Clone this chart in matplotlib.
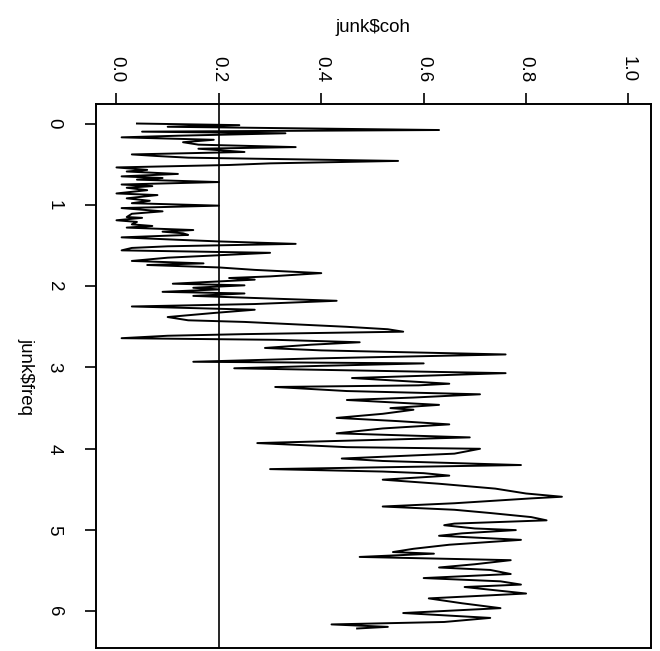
import numpy as np
import matplotlib
matplotlib.use("Agg")
import matplotlib.pyplot as plt

plt.rcParams['font.family'] = ['Liberation Sans', 'DejaVu Sans']

freq = [0.00, 0.02, 0.04, 0.08, 0.10, 0.12, 0.15, 0.17, 0.20, 0.23,
        0.26, 0.29, 0.31, 0.35, 0.38, 0.40, 0.42, 0.46, 0.49, 0.51,
        0.54, 0.57, 0.59, 0.62, 0.65, 0.67, 0.69, 0.72, 0.75, 0.77,
        0.79, 0.82, 0.86, 0.88, 0.92, 0.95, 0.98, 1.01, 1.04, 1.06,
        1.08, 1.11, 1.15, 1.16, 1.19, 1.21, 1.24, 1.26, 1.28, 1.31,
        1.33, 1.35, 1.37, 1.40, 1.43, 1.45, 1.48, 1.51, 1.53, 1.56,
        1.59, 1.65, 1.69, 1.72, 1.74, 1.77, 1.80, 1.84, 1.88, 1.90,
        1.92, 1.97, 1.99, 2.02, 2.04, 2.07, 2.09, 2.12, 2.18, 2.22,
        2.25, 2.29, 2.33, 2.38, 2.42, 2.44, 2.47, 2.50, 2.53, 2.56,
        2.59, 2.61, 2.64, 2.66, 2.69, 2.72, 2.76, 2.79, 2.84, 2.89,
        2.93, 2.95, 2.98, 3.01, 3.07, 3.13, 3.20, 3.22, 3.24, 3.29,
        3.33, 3.37, 3.40, 3.46, 3.50, 3.52, 3.57, 3.62, 3.66, 3.70,
        3.75, 3.81, 3.86, 3.93, 3.98, 4.00, 4.06, 4.09, 4.12, 4.15,
        4.20, 4.25, 4.28, 4.30, 4.33, 4.38, 4.43, 4.49, 4.55, 4.59,
        4.61, 4.67, 4.71, 4.75, 4.79, 4.84, 4.88, 4.92, 4.94, 4.98,
        5.00, 5.04, 5.07, 5.12, 5.18, 5.23, 5.27, 5.29, 5.33, 5.37,
        5.42, 5.46, 5.49, 5.54, 5.59, 5.63, 5.67, 5.70, 5.74, 5.78,
        5.84, 5.90, 5.96, 6.02, 6.08, 6.13, 6.16, 6.19, 6.21]
coh = [0.04, 0.24, 0.10, 0.63, 0.05, 0.33, 0.12, 0.01, 0.19, 0.13,
       0.16, 0.35, 0.16, 0.25, 0.03, 0.08, 0.14, 0.55, 0.30, 0.22,
       0.00, 0.06, 0.02, 0.12, 0.01, 0.09, 0.04, 0.20, 0.01, 0.07,
       0.02, 0.06, 0.00, 0.08, 0.02, 0.065, 0.03, 0.20, 0.01, 0.05,
       0.09, 0.03, 0.02, 0.05, 0.00, 0.04, 0.03, 0.07, 0.02, 0.15,
       0.09, 0.13, 0.14, 0.01, 0.12, 0.20, 0.35, 0.10, 0.03, 0.01,
       0.30, 0.10, 0.03, 0.17, 0.06, 0.20, 0.27, 0.40, 0.30, 0.22,
       0.27, 0.11, 0.25, 0.15, 0.20, 0.09, 0.25, 0.15, 0.43, 0.27,
       0.03, 0.27, 0.19, 0.10, 0.14, 0.25, 0.35, 0.45, 0.53, 0.56,
       0.25, 0.10, 0.01, 0.31, 0.475, 0.38, 0.29, 0.40, 0.76, 0.38,
       0.15, 0.60, 0.40, 0.23, 0.76, 0.46, 0.65, 0.59, 0.31, 0.45,
       0.71, 0.58, 0.45, 0.63, 0.535, 0.58, 0.52, 0.43, 0.55, 0.65,
       0.52, 0.43, 0.69, 0.275, 0.45, 0.71, 0.66, 0.55, 0.44, 0.52,
       0.79, 0.30, 0.52, 0.60, 0.65, 0.52, 0.63, 0.74, 0.80, 0.87,
       0.81, 0.66, 0.52, 0.66, 0.73, 0.81, 0.84, 0.66, 0.64, 0.70,
       0.78, 0.675, 0.63, 0.79, 0.65, 0.58, 0.54, 0.62, 0.475, 0.77,
       0.70, 0.63, 0.73, 0.77, 0.60, 0.75, 0.79, 0.68, 0.74, 0.80,
       0.61, 0.675, 0.75, 0.56, 0.73, 0.64, 0.42, 0.53, 0.47]

coh_ticks = [0.0, 0.2, 0.4, 0.6, 0.8, 1.0]
freq_ticks = [0, 1, 2, 3, 4, 5, 6]
cutoff = 0.2

fig = plt.figure(figsize=(6.6, 6.51), dpi=100)
ax = fig.add_axes([96 / 660, 1 - 648 / 651, 555 / 660, 544 / 651])

ax.plot(coh, freq, color='black', lw=1.4)
ax.axvline(cutoff, color='black', lw=1.2)

ax.set_xlim(-0.04, 1.044)
ax.set_ylim(6.45, -0.24)

ax.xaxis.tick_top()
ax.set_xticks(coh_ticks)
ax.set_xticklabels([f"{t:.1f}" for t in coh_ticks])
ax.set_yticks(freq_ticks)
ax.set_yticklabels([str(t) for t in freq_ticks])
ax.tick_params(axis='x', length=8, width=1.2, pad=8, labelsize=13.5, labelrotation=-90)
ax.tick_params(axis='y', length=8, width=1.2, pad=16, labelsize=13.5, labelrotation=-90)
plt.setp(ax.get_yticklabels(), va='center')

for s in ax.spines.values():
    s.set_linewidth(1.4)

fig.text(373 / 660, 1 - 27 / 651, 'junk$coh', ha='center', va='center', fontsize=13.5)
fig.text(26 / 660, 1 - 376 / 651, 'junk$freq', ha='center', va='center',
         fontsize=13.5, rotation=-90)

fig.savefig('out.png', dpi=100)
